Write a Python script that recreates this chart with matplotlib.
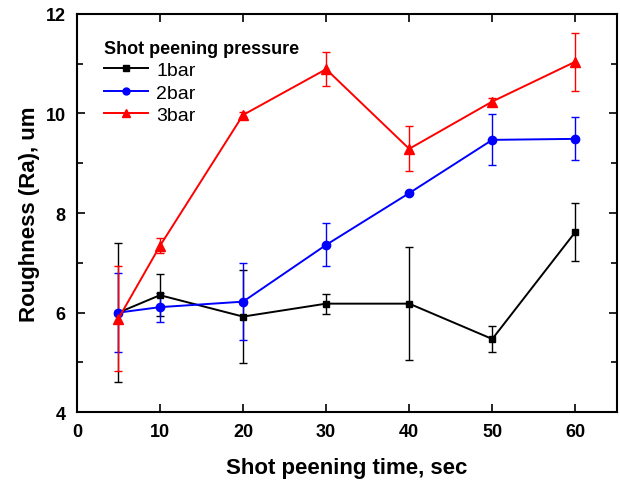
import matplotlib
matplotlib.use("Agg")
import matplotlib.pyplot as plt
from matplotlib.lines import Line2D
from matplotlib.ticker import MultipleLocator

plt.rcParams['font.family'] = ['Liberation Sans', 'DejaVu Sans']

time_sec = [5, 10, 20, 30, 40, 50, 60]

ra_1bar = [6.00, 6.35, 5.92, 6.18, 6.18, 5.47, 7.62]
err_1bar = [1.40, 0.42, 0.94, 0.20, 1.13, 0.27, 0.59]

ra_2bar = [6.00, 6.11, 6.22, 7.36, 8.40, 9.47, 9.49]
err_2bar = [0.80, 0.29, 0.78, 0.43, 0.0, 0.51, 0.43]

ra_3bar = [5.88, 7.34, 9.97, 10.89, 9.29, 10.24, 11.04]
err_3bar = [1.05, 0.15, 0.05, 0.34, 0.45, 0.07, 0.58]

fig = plt.figure(figsize=(6.2, 4.81), dpi=100)
ax = fig.add_axes([0.124, 0.141, 0.871, 0.828])

series = [
    (ra_1bar, err_1bar, 'black', 's', 5, '1bar'),
    (ra_2bar, err_2bar, 'blue', 'o', 6, '2bar'),
    (ra_3bar, err_3bar, 'red', '^', 7, '3bar'),
]
handles = []
for vals, errs, col, mk, ms, name in series:
    ax.errorbar(time_sec, vals, yerr=errs, color=col, marker=mk,
                markersize=ms, linewidth=1.4, elinewidth=1.0, capsize=3)
    handles.append(Line2D([], [], color=col, marker=mk, markersize=ms - 1,
                          linewidth=1.4, label=name))

ax.set_xlim(0, 65)
ax.set_ylim(4, 12)
ax.xaxis.set_major_locator(MultipleLocator(10))
ax.yaxis.set_major_locator(MultipleLocator(2))
ax.yaxis.set_minor_locator(MultipleLocator(1))
ax.tick_params(which='both', direction='in', top=True, right=True, width=1.2)
ax.tick_params(axis='x', which='major', length=6, labelsize=13, pad=8)
ax.tick_params(axis='y', which='major', length=6, labelsize=13, pad=8)
ax.tick_params(which='minor', length=4)
for lbl in ax.get_xticklabels() + ax.get_yticklabels():
    lbl.set_fontweight('bold')
for s in ax.spines.values():
    s.set_linewidth(1.5)

ax.set_xlabel('Shot peening time, sec', fontsize=16, fontweight='bold', labelpad=12)
ax.set_ylabel('Roughness (Ra), um', fontsize=16, fontweight='bold', labelpad=4)

leg = ax.legend(handles=handles, loc='upper left', frameon=False, fontsize=14,
                title='Shot peening pressure', handlelength=2.3,
                bbox_to_anchor=(0.035, 0.955), borderaxespad=0.0,
                labelspacing=0.25, handletextpad=0.4)
leg.get_title().set_fontweight('bold')
leg.get_title().set_fontsize(13)
leg._legend_box.align = 'left'

fig.savefig('out.png', dpi=100)
